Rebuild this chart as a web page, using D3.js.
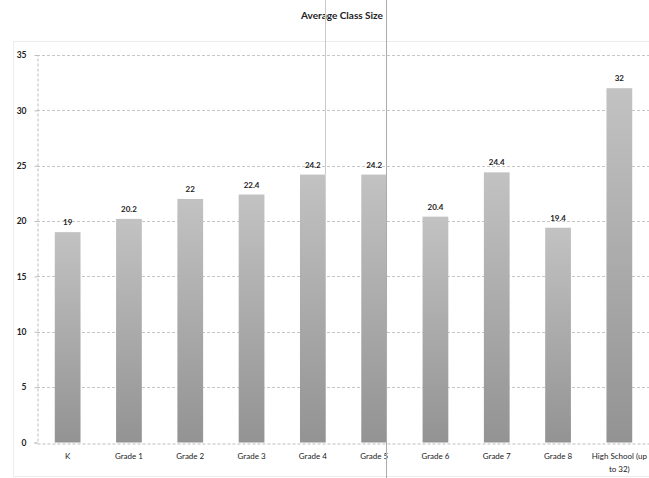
<!DOCTYPE html>
<html>
<head>
<meta charset="utf-8">
<script src="https://cdn.jsdelivr.net/npm/d3@7"></script>
<style>
  html, body { margin: 0; padding: 0; background: #fff; }
  svg { display: block; }
  text { font-family: Lato, "Open Sans", "Liberation Sans", sans-serif; fill: #222; }
</style>
</head>
<body>
<svg id="chart" width="649" height="478"></svg>
<script>
// Average class size by grade level
const categories = ["K", "Grade 1", "Grade 2", "Grade 3", "Grade 4", "Grade 5",
                    "Grade 6", "Grade 7", "Grade 8", "High School (up to 32)"];
const values = [19, 20.2, 22, 22.4, 24.2, 24.2, 20.4, 24.4, 19.4, 32];
const yTicks = [0, 5, 10, 15, 20, 25, 30, 35];
const title = "Average Class Size";

const W = 649, H = 478;
const margin = { top: 55, right: 0, bottom: 35.5, left: 37 };
const svg = d3.select("#chart");

const x = d3.scaleBand()
  .domain(categories)
  .range([margin.left, W - margin.right + 1])
  .paddingInner(0.58)
  .paddingOuter(0.29);

const y = d3.scaleLinear()
  .domain([0, 35])
  .range([H - margin.bottom, margin.top]);

// Bar fill: lighter at the top, darker at the base
const defs = svg.append("defs");
const grad = defs.append("linearGradient")
  .attr("id", "barFill").attr("x1", 0).attr("y1", 0).attr("x2", 0).attr("y2", 1);
grad.append("stop").attr("offset", "0%").attr("stop-color", "#c2c2c2");
grad.append("stop").attr("offset", "100%").attr("stop-color", "#939393");

// Outer chart frame
svg.append("rect")
  .attr("x", 13.5).attr("y", 41.5)
  .attr("width", W - 13).attr("height", 435)
  .attr("fill", "none").attr("stroke", "#ececec");

// Title
svg.append("text")
  .attr("x", 342).attr("y", 19)
  .attr("text-anchor", "middle")
  .attr("font-size", 10).attr("font-weight", "bold")
  .text(title);

// Horizontal gridlines
svg.append("g")
  .selectAll("line")
  .data(yTicks.filter(d => d > 0))
  .join("line")
  .attr("x1", margin.left).attr("x2", W)
  .attr("y1", d => Math.round(y(d)) + 0.5).attr("y2", d => Math.round(y(d)) + 0.5)
  .attr("stroke", "#c6c6c6").attr("stroke-width", 1)
  .attr("stroke-dasharray", "3,2");

// Y axis
const yAxis = svg.append("g")
  .attr("transform", `translate(${margin.left + 0.5},0)`)
  .call(d3.axisLeft(y).tickValues(yTicks).tickSize(3).tickPadding(8));
yAxis.select(".domain").attr("stroke", "#bdbdbd").attr("stroke-dasharray", "3,2");
yAxis.selectAll(".tick line").attr("stroke", "#bdbdbd");
yAxis.selectAll(".tick text")
  .attr("font-size", 8.5).attr("font-weight", "bold").attr("fill", "#333")
  .attr("font-family", "Lato, 'Open Sans', sans-serif");

// Bars
svg.append("g")
  .selectAll("rect")
  .data(values)
  .join("rect")
  .attr("x", (d, i) => x(categories[i]))
  .attr("y", d => y(d))
  .attr("width", x.bandwidth())
  .attr("height", d => y(0) - y(d))
  .attr("fill", "url(#barFill)");

// Value labels
svg.append("g")
  .selectAll("text")
  .data(values)
  .join("text")
  .attr("x", (d, i) => x(categories[i]) + x.bandwidth() / 2)
  .attr("y", d => y(d) - 7)
  .attr("text-anchor", "middle")
  .attr("font-size", 8).attr("font-weight", "bold")
  .text(d => d);

// X axis
const xAxis = svg.append("g")
  .attr("transform", `translate(0,${Math.round(y(0)) + 0.5})`)
  .call(d3.axisBottom(x).tickSize(0).tickPadding(10).tickFormat(""));
xAxis.select(".domain").attr("stroke", "#bdbdbd").attr("stroke-dasharray", "3,2");

// Category labels (wrapped where long)
const wrapped = {"High School (up to 32)": ["High School (up", "to 32)"]};
svg.append("g")
  .selectAll("text")
  .data(categories)
  .join("text")
  .attr("x", d => x(d) + x.bandwidth() / 2)
  .attr("y", 459)
  .attr("text-anchor", "middle")
  .attr("font-size", 8)
  .each(function (d) {
    const lines = wrapped[d] || [d];
    d3.select(this).selectAll("tspan")
      .data(lines)
      .join("tspan")
      .attr("x", x(d) + x.bandwidth() / 2)
      .attr("dy", (l, i) => i === 0 ? 0 : 13)
      .text(l => l);
  });

// Page fold lines running through the sheet
svg.append("line")
  .attr("x1", 386.5).attr("x2", 386.5).attr("y1", 0).attr("y2", H)
  .attr("stroke", "#ababab").attr("stroke-width", 1);
svg.append("line")
  .attr("x1", 325.5).attr("x2", 325.5).attr("y1", 0).attr("y2", y(values[4]))
  .attr("stroke", "#cacaca").attr("stroke-width", 1);
</script>
</body>
</html>
